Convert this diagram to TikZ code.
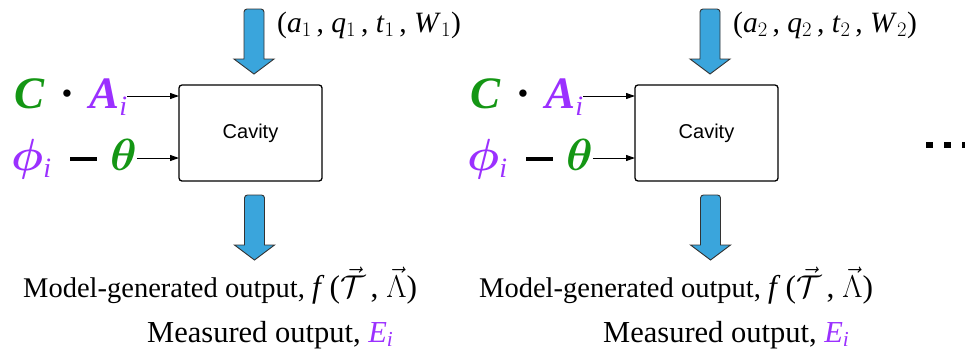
\RequirePackage{fix-cm}
\documentclass[tikz,border=0pt]{standalone}
\usepackage{bm}
\usepackage{fontspec}
\setmainfont{Liberation Serif}
\newfontfamily\sansf{Liberation Sans}
\usetikzlibrary{arrows.meta}
\definecolor{cgreen}{RGB}{20,150,20}
\definecolor{cpurple}{RGB}{155,48,255}
\definecolor{cblue}{RGB}{58,165,220}
\newcommand\subi{\raisebox{-7.5pt}{\fontsize{28}{28}\selectfont\itshape\mdseries i}}
\tikzset{
  cavbox/.style={draw, line width=1.3pt, rounded corners=3pt, minimum width=143pt, minimum height=96pt, font=\sansf\fontsize{20}{24}\selectfont},
  bigmath/.style={inner sep=0pt, anchor=base west, font=\fontsize{45}{54}\selectfont},
  lbl/.style={inner sep=0pt, anchor=base west, font=\fontsize{28.5}{32}\selectfont},
  inarrow/.style={line width=1pt, -{Triangle[length=9pt,width=6pt]}},
  blockarrow/.style={fill=cblue, draw=black!80, line width=0.9pt, line join=miter},
}
\newcommand\blockarrow[4]{% name, cx, top, tip
  \draw[blockarrow] ({#2-10},{#4-15}) [rounded corners=3pt] -- ({#2-10},#3) -- ({#2+10},#3) [sharp corners] -- ({#2+10},{#4-15}) -- ({#2+20},{#4-15}) -- (#2,#4) -- ({#2-20},{#4-15}) -- cycle;
}
\begin{document}
\begin{tikzpicture}[x=1pt,y=-1pt]
\useasboundingbox (0,0) rectangle (965,354);
\foreach \k/\dx in {1/0,2/456}{
\begin{scope}[xshift=\dx]
  \node[cavbox] (box\k) at (250.5,133) {Cavity};
  \blockarrow{top\k}{254}{9}{74}
  \blockarrow{bot\k}{254.5}{195}{260}
  \node[lbl, font=\fontsize{29.5}{32}\selectfont] (par\k) at (277,32) {(\textit{a}$_{\k}$\,, \textit{q}$_{\k}$\,, \textit{t}$_{\k}$\,, \textit{W}$_{\k}$)};
  \node[bigmath] (ca\k) at (14,108) {\bfseries\itshape{\color{cgreen}C}\hspace{17pt}·\hspace{17pt}{\color{cpurple}A\subi}\hspace{6pt}};
  \node[bigmath] (pt\k) at (11,170) {{\color{cpurple}$\bm{\phi}$\subi}\hspace{19pt}\rule[9pt]{27pt}{4.3pt}\hspace{13pt}{\color{cgreen}$\bm{\theta}$}};
  \coordinate (in1\k) at (179,96);
  \coordinate (in2\k) at (179,158);
  \draw[inarrow] (ca\k.east |- in1\k) -- (in1\k);
  \draw[inarrow] (pt\k.east |- in2\k) -- (in2\k);
  \node[lbl] (mod\k) at (23,297) {Model-generated output, {\fontsize{31.5}{34}\selectfont\textit{f}\,($\vec{\mathcal{T}}$\,, $\vec{\Lambda}$)}};
  \node[lbl, font=\fontsize{30.5}{34}\selectfont] (meas\k) at (147,342) {Measured output, {\color{cpurple}\textit{E}$_{\mathit{i}}$}};
\end{scope}
}
\fill (926,142) rectangle (933,148);
\fill (944,142) rectangle (951,148);
\fill (962,142) rectangle (969,148);
\end{tikzpicture}
\end{document}
